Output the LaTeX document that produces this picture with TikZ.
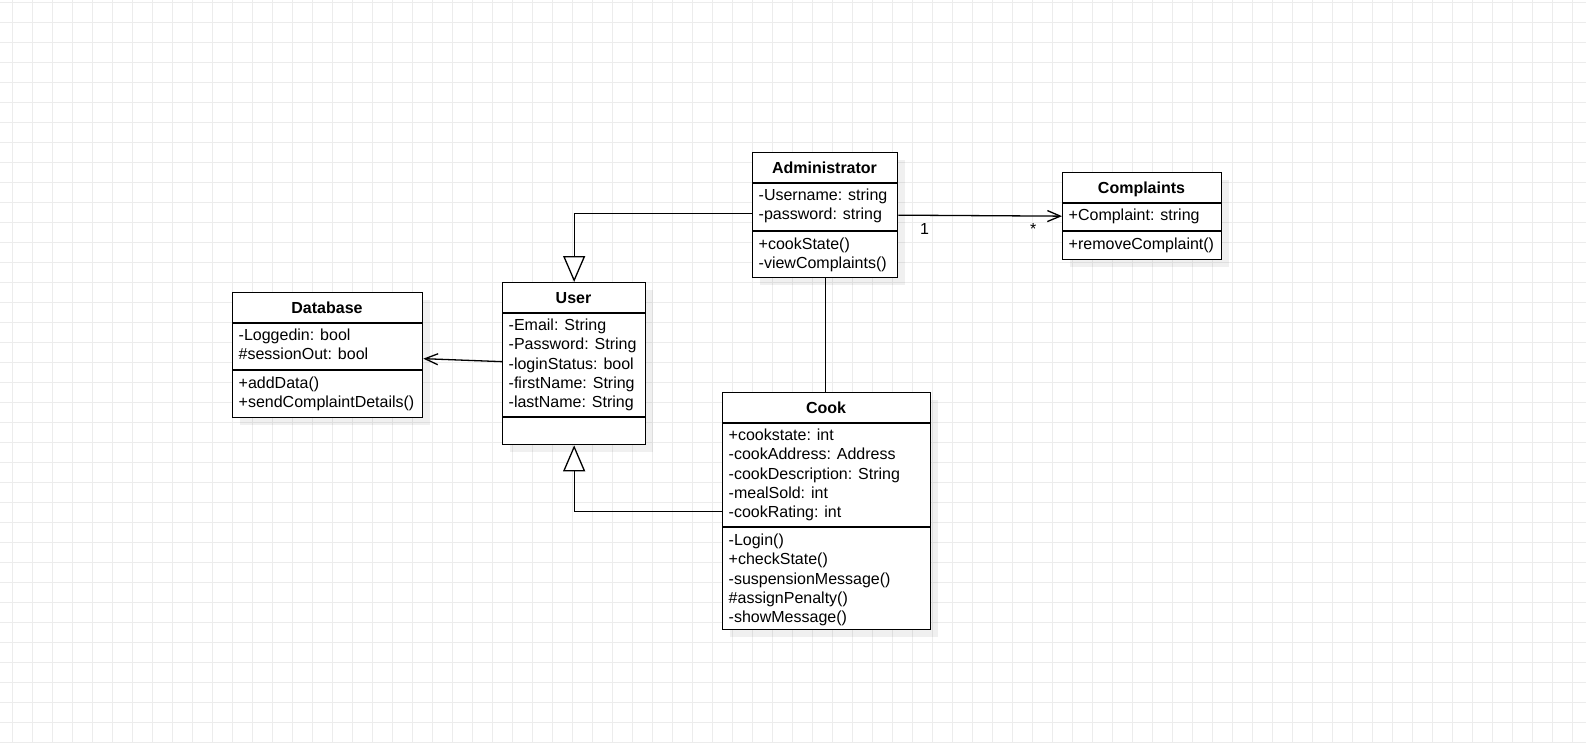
\documentclass[tikz,border=0pt]{standalone}
\usepackage{fontspec}
\setmainfont{Liberation Sans}
\usetikzlibrary{arrows.meta}

\definecolor{gridc}{RGB}{236,236,236}

\tikzset{
  gridline/.style={draw=gridc, line width=1pt},
  classbox/.style={draw=black, fill=white, line width=1.3pt, inner sep=0pt, anchor=north west},
  boxshadow/.style={fill=black, fill opacity=0.06},
  rule/.style={draw=black, line width=1.3pt},
  titletext/.style={font=\fontsize{16}{19.2}\selectfont\bfseries, inner sep=0pt, anchor=base},
  membertext/.style={font=\fontsize{16}{19.2}\selectfont, inner sep=0pt, anchor=base west},
  assoc/.style={draw=black, line width=1.3pt, -{Straight Barb[length=13pt, width=11pt]}},
  inherit/.style={draw=black, line width=1.3pt, -{Triangle[open, fill=white, length=26pt, width=22pt]}},
  plainlink/.style={draw=black, line width=1.3pt},
}

% \umlclass{name}{left}{top}{right}{bottom}{operations rule y}{title}{attributes}{operations}
\newcommand\umlclass[9]{%
  \fill[boxshadow] ({#2+8},{#3+8}) rectangle ({#4+8},{#5+8});
  \node[classbox, minimum width={(#4-#2)*1pt}, minimum height={(#5-#3)*1pt}] (#1) at (#2,#3) {};
  \draw[rule] ([yshift=-31pt]#1.north west) -- ([yshift=-31pt]#1.north east);
  \draw[rule] (#1.west |- 0,#6) -- (#1.east |- 0,#6);
  \node[titletext] (#1-title) at ({(#2+#4)/2},{#3+21.3}) {#7};
  \foreach \txt [count=\idx] in {#8} {\node[membertext] (#1-attr\idx) at ({#2+6.5},{#3+31+17.6+(\idx-1)*19.2}) {\txt};}
  \foreach \txt [count=\idx] in {#9} {\node[membertext] (#1-op\idx) at ({#2+6.5},{#6+18.6+(\idx-1)*19.2}) {\txt};}
}

\begin{document}
\begin{tikzpicture}[x=1pt, y=-1pt]
  \useasboundingbox (0,0) rectangle (1586,742);
  \fill[white] (0,0) rectangle (1586,742);

  % background grid
  \foreach \gx in {12,32,...,1572} \draw[gridline] (\gx,0) -- (\gx,742);
  \foreach \gy in {2,22,...,742} \draw[gridline] (0,\gy) -- (1586,\gy);

  % classes
  \umlclass{admin}{752}{152}{897}{277}{231}{Administrator}
    {-Username: string, -password: string}
    {+cookState(), -viewComplaints()}
  \umlclass{complaints}{1062}{172}{1221}{259}{231}{Complaints}
    {+Complaint: string}
    {+removeComplaint()}
  \umlclass{database}{232}{292}{422}{417}{370}{Database}
    {-Loggedin: bool, \#sessionOut: bool}
    {+addData(), +sendComplaintDetails()}
  \umlclass{user}{502}{282}{645}{444}{417}{User}
    {-Email: String, -Password: String, -loginStatus: bool, -firstName: String, -lastName: String}
    {}
  \umlclass{cook}{722}{392}{930}{629}{527}{Cook}
    {+cookstate: int, -cookAddress: Address, -cookDescription: String, -mealSold: int, -cookRating: int}
    {-Login(), +checkState(), -suspensionMessage(), \#assignPenalty(), -showMessage()}

  % relations
  \draw[assoc] (admin.east) -- (complaints.west);
  \node[membertext] (mult-one) at (920,234.5) {1};
  \node[membertext] (mult-many) at (1030,234.5) {*};
  \draw[assoc] ([yshift=2pt]user.west) -- ([yshift=-3.5pt]database.east);
  \draw[inherit] ([yshift=1.5pt]admin.west) -| (user.north);
  \draw[inherit] (cook.west) -| (user.south);
  \draw[plainlink] (admin.south) -- (admin.south |- cook.north);
\end{tikzpicture}
\end{document}
